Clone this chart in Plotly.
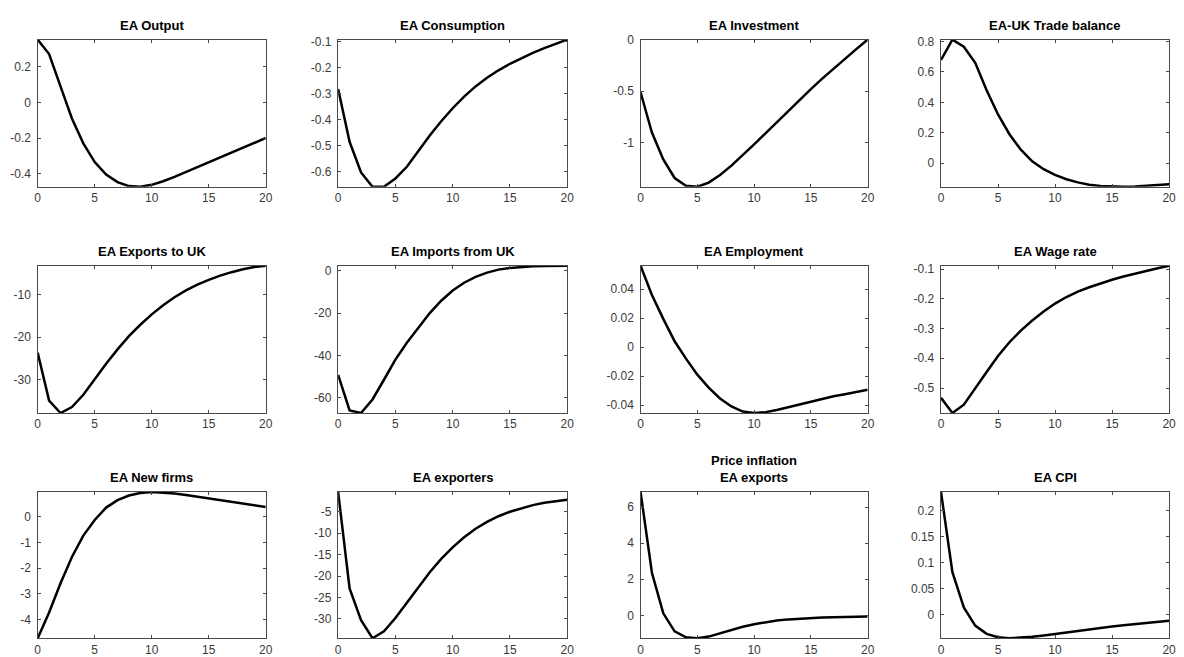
import plotly.graph_objects as go

# Impulse responses, quarters 0..20
quarters = list(range(21))

titles = [
    "EA Output", "EA Consumption", "EA Investment", "EA-UK Trade balance",
    "EA Exports to UK", "EA Imports from UK", "EA Employment", "EA Wage rate",
    "EA New firms", "EA exporters", "Price inflation<br>EA exports", "EA CPI",
]

ea_output = [0.353, 0.272, 0.09, -0.09, -0.23, -0.335, -0.405, -0.448, -0.47, -0.474, -0.463,
             -0.443, -0.418, -0.391, -0.363, -0.335, -0.307, -0.28, -0.253, -0.227, -0.2]
ea_consumption = [-0.281, -0.484, -0.602, -0.657, -0.657, -0.625, -0.58, -0.52, -0.46, -0.405, -0.355,
                  -0.31, -0.271, -0.238, -0.209, -0.184, -0.162, -0.142, -0.124, -0.107, -0.091]
ea_investment = [-0.51, -0.90, -1.16, -1.34, -1.415, -1.425, -1.385, -1.31, -1.22, -1.12, -1.015,
                 -0.908, -0.8, -0.692, -0.585, -0.48, -0.378, -0.28, -0.185, -0.092, 0.0]
ea_uk_trade_balance = [0.679, 0.813, 0.766, 0.66, 0.48, 0.32, 0.19, 0.088, 0.012, -0.04, -0.078,
                       -0.106, -0.127, -0.142, -0.151, -0.155, -0.156, -0.154, -0.15, -0.145, -0.139]
ea_exports_uk = [-23.7, -34.96, -37.9, -36.5, -33.6, -29.9, -26.3, -22.9, -19.8, -17.1, -14.65,
                 -12.5, -10.6, -9.0, -7.65, -6.5, -5.5, -4.7, -4.0, -3.5, -3.2]
ea_imports_uk = [-49.2, -66.0, -67.2, -60.8, -51.5, -42.0, -34.0, -26.8, -20.0, -14.2, -9.4,
                 -5.7, -2.9, -0.9, 0.5, 1.3, 1.8, 2.1, 2.25, 2.3, 2.3]
ea_employment = [0.0561, 0.036, 0.0195, 0.004, -0.008, -0.019, -0.028, -0.0355, -0.041, -0.0445, -0.0455,
                 -0.0449, -0.0434, -0.0415, -0.0394, -0.0373, -0.0356, -0.034, -0.0325, -0.031, -0.0295]
ea_wage_rate = [-0.533, -0.584, -0.556, -0.503, -0.446, -0.392, -0.346, -0.307, -0.273, -0.243, -0.216,
                -0.194, -0.176, -0.161, -0.148, -0.136, -0.125, -0.115, -0.106, -0.097, -0.089]
ea_new_firms = [-4.73, -3.73, -2.59, -1.57, -0.74, -0.13, 0.35, 0.64, 0.82, 0.92, 0.955,
                0.94, 0.9, 0.84, 0.775, 0.705, 0.64, 0.575, 0.51, 0.44, 0.37]
ea_exporters = [-0.4, -22.9, -30.3, -34.5, -32.9, -29.8, -26.2, -22.5, -19.1, -16.0, -13.3,
                -10.95, -8.95, -7.35, -6.05, -5.0, -4.15, -3.45, -2.9, -2.5, -2.2]
ea_export_inflation = [6.84, 2.36, 0.11, -0.89, -1.22, -1.27, -1.18, -1.0, -0.8, -0.63, -0.49,
                       -0.38, -0.29, -0.225, -0.18, -0.148, -0.124, -0.105, -0.088, -0.073, -0.06]
ea_cpi = [0.236, 0.0815, 0.0134, -0.0217, -0.0376, -0.044, -0.046, -0.0452, -0.0433, -0.0408, -0.0378,
          -0.0347, -0.0316, -0.0287, -0.026, -0.0235, -0.0212, -0.019, -0.0169, -0.0148, -0.0125]

series = [ea_output, ea_consumption, ea_investment, ea_uk_trade_balance,
          ea_exports_uk, ea_imports_uk, ea_employment, ea_wage_rate,
          ea_new_firms, ea_exporters, ea_export_inflation, ea_cpi]

x_ticks = [0, 5, 10, 15, 20]
y_ticks = [
    [-0.4, -0.2, 0, 0.2],
    [-0.6, -0.5, -0.4, -0.3, -0.2, -0.1],
    [-1, -0.5, 0],
    [0, 0.2, 0.4, 0.6, 0.8],
    [-30, -20, -10],
    [-60, -40, -20, 0],
    [-0.04, -0.02, 0, 0.02, 0.04],
    [-0.5, -0.4, -0.3, -0.2, -0.1],
    [-4, -3, -2, -1, 0],
    [-30, -25, -20, -15, -10, -5],
    [0, 2, 4, 6],
    [0, 0.05, 0.1, 0.15, 0.2],
]

W, H = 1184, 657
col_px = [(35, 265), (338, 569), (643, 872), (946, 1176)]
row_px = [(33, 182), (262, 411), (491, 639)]

axis_color = "#4a4a4a"
label_color = "#3a3a3a"
font_family = "Liberation Sans, Arial, Helvetica, sans-serif"

fig = go.Figure()
annotations = []

for i, (ys, title) in enumerate(zip(series, titles)):
    r, c = divmod(i, 4)
    n = i + 1
    xa = "x" if n == 1 else f"x{n}"
    ya = "y" if n == 1 else f"y{n}"
    fig.add_trace(go.Scatter(
        x=quarters, y=ys, mode="lines",
        line=dict(color="black", width=2.5),
        xaxis=xa, yaxis=ya, showlegend=False, hoverinfo="x+y",
    ))
    x0, x1 = col_px[c]
    y_top, y_bot = row_px[r]
    xdom = [x0 / W, x1 / W]
    ydom = [1 - y_bot / H, 1 - y_top / H]
    common = dict(
        showline=True, linecolor=axis_color, linewidth=1, mirror="ticks",
        ticks="inside", ticklen=3, tickcolor=axis_color, tickwidth=1,
        showgrid=False, zeroline=False,
        tickfont=dict(family=font_family, size=12, color=label_color),
    )
    fig.layout[f"xaxis{'' if n == 1 else n}"] = dict(
        domain=xdom, anchor=ya, range=[0, 20],
        tickvals=x_ticks, ticktext=[f"{v:g}" for v in x_ticks], **common)
    fig.layout[f"yaxis{'' if n == 1 else n}"] = dict(
        domain=ydom, anchor=xa, range=[min(ys), max(ys)],
        tickvals=y_ticks[i], ticktext=[f"{v:g} " for v in y_ticks[i]], **common)
    annotations.append(dict(
        text=f"<b>{title}</b>", x=(xdom[0] + xdom[1]) / 2, y=ydom[1],
        xref="paper", yref="paper", xanchor="center", yanchor="bottom",
        showarrow=False, yshift=5,
        font=dict(family=font_family, size=13, color="black"),
    ))

fig.update_layout(
    width=W, height=H,
    margin=dict(l=0, r=0, t=0, b=0),
    paper_bgcolor="white", plot_bgcolor="white",
    annotations=annotations,
)

fig.write_html("out.html")
